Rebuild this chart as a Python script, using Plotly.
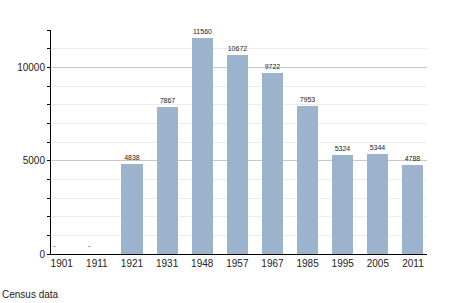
import plotly.graph_objects as go

years = ["1901", "1911", "1921", "1931", "1948", "1957", "1967", "1985", "1995", "2005", "2011"]
population = [None, None, 4838, 7867, 11560, 10672, 9722, 7953, 5324, 5344, 4788]
y_ticks = [0, 5000, 10000]

xs = list(range(len(years)))

fig = go.Figure()
fig.add_trace(go.Bar(
    x=xs, y=population, width=0.6,
    marker=dict(color="#9cb3cd", line=dict(width=0)),
    text=[str(v) if v is not None else "" for v in population],
    textposition="outside", cliponaxis=False,
    textfont=dict(size=7, color="#222", family="Liberation Sans, Arial"),
    hoverinfo="skip",
))

missing_notes = [dict(x=x, y=0, xref="x", yref="y", text="-", showarrow=False,
                      xshift=-7, yshift=9, font=dict(size=8, color="#333"))
                 for x, v in zip(xs, population) if v is None]

fig.update_layout(
    width=455, height=303,
    margin=dict(l=51, r=28, t=30, b=49),
    paper_bgcolor="white", plot_bgcolor="white",
    showlegend=False,
    font=dict(family="Liberation Sans, Arial", size=10, color="#222"),
    bargap=0,
    annotations=missing_notes + [dict(text="Census data", xref="paper", yref="paper", x=-51/376, y=-40/224,
                      xanchor="left", yanchor="middle", showarrow=False,
                      font=dict(size=10, color="#222"))],
)
fig.update_xaxes(
    range=[-0.305, 10.4], tickmode="array", tickvals=xs, ticktext=years,
    showline=True, linecolor="black", linewidth=1, showgrid=False, ticks="",
    tickfont=dict(size=10), zeroline=False,
)
fig.update_yaxes(
    range=[0, 12000], tickmode="array", tickvals=y_ticks, tickformat="d",
    showline=True, linecolor="black", linewidth=1,
    showgrid=True, gridcolor="#c8c8c8", gridwidth=1,
    ticks="outside", ticklen=3, tickcolor="black",
    minor=dict(dtick=1000, showgrid=True, gridcolor="#ececec", ticks="outside", ticklen=3, tickcolor="black"),
    zeroline=False, tickfont=dict(size=10),
)
fig.write_html("out.html")
